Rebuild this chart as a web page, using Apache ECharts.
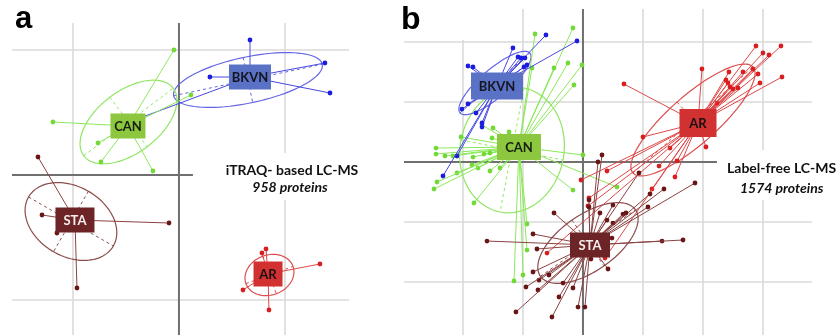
<!DOCTYPE html>
<html>
<head>
<meta charset="utf-8">
<script src="https://cdn.jsdelivr.net/npm/echarts@6/dist/echarts.min.js"></script>
<style>
  html, body { margin: 0; padding: 0; background: #fff; }
  #chart { width: 836px; height: 335px; }
</style>
</head>
<body>
<div id="chart"></div>
<script>
// panel a: iTRAQ scores (grid step = 1 unit)
const aBkvnCentre = [0.670, 0.784];
const aBkvnPoints = [[0.670, 1.080], [1.377, 0.896], [1.425, 0.656], [0.292, 0.784], [-0.368, 0.456]];
const aBkvnEllipse = [0.651, 0.760, 0.701, 0.126, 0.045, -0.180];

const aCanCentre = [-0.481, 0.392];
const aCanPoints = [[-0.047, 1.0], [-1.189, 0.424], [0.113, 0.640], [-0.764, 0.256], [-0.736, 0.104], [-0.245, 0.032]];
const aCanEllipse = [-0.476, 0.424, 0.422, 0.270, 0.176, -0.198];

const aStaCentre = [-0.981, -0.360];
const aStaPoints = [[-1.330, 0.144], [-0.094, -0.384], [-0.962, -0.904], [-1.292, -0.320], [-1.151, -0.464]];
const aStaEllipse = [-1.019, -0.372, 0.400, -0.196, -0.165, -0.242];

const aArCentre = [0.840, -0.792];
const aArPoints = [[0.821, -0.592], [0.783, -0.624], [1.330, -0.712], [0.604, -0.920], [0.849, -1.080]];
const aArEllipse = [0.854, -0.800, 0.222, 0.069, 0.064, -0.150];

// panel b: label-free scores
const bBkvnCentre = [-1.433, 1.267];
const bBkvnPoints = [
  [-0.617, 2.117], [-0.100, 2.017], [-1.167, 1.900], [-1.083, 1.750], [-1.033, 1.733], [-0.967, 1.733],
  [-0.933, 1.617], [-0.983, 1.583], [-1.917, 1.600], [-1.833, 1.583], [-2.017, 0.883], [-1.917, 0.967],
  [-1.783, 0.817], [-1.683, 0.583], [-1.683, 0.650], [-2.100, 0.100], [-2.333, -0.233]
];
const bBkvnEllipse = [-1.467, 1.317, 0.582, 0.498, 0.152, -0.177];

const bCanCentre = [-1.067, 0.250];
const bCanPoints = [
  [-0.800, 2.133], [-0.167, 2.233], [-0.017, 1.617], [-0.250, 1.650], [-0.483, 1.567], [-0.150, 1.283],
  [-0.850, 1.567], [-1.233, 0.500], [-1.517, 0.400], [-1.683, 0.617], [-1.500, 0.567], [-2.033, 0.417],
  [-2.450, 0.233], [-2.450, 0.133], [-2.300, 0.100], [-2.167, 0.100], [-1.833, 0.083], [-1.650, 0.133],
  [-1.550, 0.150], [-1.850, -0.050], [-1.750, -0.100], [-2.100, -0.183], [-1.550, -0.150], [-1.383, -0.100],
  [-2.433, -0.333], [-2.483, -0.450], [0.000, 0.117], [-0.167, -0.467], [-1.817, -0.683], [-0.933, -1.033],
  [-0.933, -1.467], [-1.150, -1.983], [-1.000, -1.883], [0.567, -0.417]
];
const bCanEllipse = [-1.183, 0.200, -0.200, -1.033, 0.850, -0.167];

const bArCentre = [1.917, 0.650];
const bArPoints = [
  [2.883, 1.933], [3.300, 1.933], [3.000, 1.817], [3.100, 1.783], [1.983, 1.550], [0.683, 1.300],
  [2.433, 1.500], [2.667, 1.500], [2.833, 1.550], [2.917, 1.467], [3.317, 1.417], [2.950, 1.317],
  [2.383, 1.367], [2.417, 1.317], [2.500, 1.217], [2.583, 1.233], [2.233, 0.983], [2.450, 1.250],
  [1.000, 0.417], [1.450, 0.233], [2.050, 0.250], [1.567, 0.017], [1.267, -0.067], [1.533, -0.250],
  [0.400, -0.150], [-0.033, -0.300], [1.150, -0.450], [-0.600, -1.517], [0.367, -1.600], [0.083, -0.733],
  [0.100, -0.600]
];
const bArEllipse = [1.833, 0.700, 1.000, 0.883, 0.265, -0.300];

const bStaCentre = [0.117, -1.383];
const bStaPoints = [
  [-1.600, -1.317], [1.317, -1.317], [1.667, -1.300], [0.317, 0.117], [0.250, 0.000], [0.100, -0.633],
  [0.100, -0.750], [-0.483, -0.850], [-0.833, -1.200], [-0.767, -1.450], [-0.833, -1.833], [-0.733, -1.967],
  [-0.950, -2.083], [-0.750, -2.133], [-1.117, -2.500], [-0.517, -2.583], [-0.083, -2.417], [0.033, -2.417],
  [-0.400, -2.250], [-0.167, -2.100], [-0.333, -2.017], [-0.567, -1.883], [0.417, -1.783], [0.133, -1.617],
  [1.867, -0.350], [1.350, -0.450], [1.117, -0.533], [0.933, -0.183], [0.667, -0.867], [0.500, -1.017],
  [0.400, -0.967], [0.283, -0.850], [0.500, -0.717], [1.083, -0.750], [0.717, -0.850], [0.483, -1.267]
];
const bStaEllipse = [0.083, -1.350, 0.792, 0.555, 0.268, -0.382];

// axes extents and grid lines
const aXRange = [-1.575, 1.604];
const aYRange = [-1.28, 1.216];
const bXRange = [-2.983, 3.817];
const bYRange = [-2.883, 2.55];
const aGridX = [-1, 1];
const aGridY = [1, -1];
const bGridX = [-2, -1, 1, 2, 3];
const bGridY = [2, 1, -1, -2];
const aAxisXEnd = 0.132;
const bAxisXEnd = 2.233;

const styles = {
  BKVN: { point: '#1c1ce0', line: '#4848e0', ring: '#6464e6', box: '#5a72c6', text: '#15151f' },
  CAN: { point: '#72da36', line: '#8ce85a', ring: '#90e664', box: '#8dc63f', text: '#17200f' },
  STA: { point: '#6a1515', line: '#8a4242', ring: '#8c4c4c', box: '#6c2426', text: '#f6eeee' },
  AR: { point: '#d81e1e', line: '#de4848', ring: '#de4e4e', box: '#d23131', text: '#1a1010' },
};

function segments(idx, lines, color, width) {
  return {
    type: 'custom', xAxisIndex: idx, yAxisIndex: idx, z: 1, silent: true,
    data: lines,
    renderItem: (params, api) => {
      const p1 = api.coord([api.value(0), api.value(1)]);
      const p2 = api.coord([api.value(2), api.value(3)]);
      return { type: 'line', shape: { x1: p1[0], y1: p1[1], x2: p2[0], y2: p2[1] }, style: { stroke: color, lineWidth: width } };
    },
  };
}

function gridLines(xs, ys, xr, yr) {
  return [...xs.map(x => [x, yr[0], x, yr[1]]), ...ys.map(y => [xr[0], y, xr[1], y])];
}

function star(idx, group, centre, points) {
  const s = styles[group];
  return {
    type: 'custom', name: group, xAxisIndex: idx, yAxisIndex: idx, z: 3, silent: true,
    data: points,
    encode: { x: 0, y: 1 },
    renderItem: (params, api) => {
      const p = api.coord([api.value(0), api.value(1)]);
      const c = api.coord(centre);
      return {
        type: 'group',
        children: [
          { type: 'line', shape: { x1: c[0], y1: c[1], x2: p[0], y2: p[1] }, style: { stroke: s.line, lineWidth: 1 } },
          { type: 'circle', shape: { cx: p[0], cy: p[1], r: 2.4 }, style: { fill: s.point } },
        ],
      };
    },
  };
}

function ellipse(idx, group, e) {
  const s = styles[group];
  return {
    type: 'custom', xAxisIndex: idx, yAxisIndex: idx, z: 2, silent: true,
    data: [e],
    encode: { x: 0, y: 1 },
    renderItem: (params, api) => {
      const [cx, cy, ux, uy, vx, vy] = [0, 1, 2, 3, 4, 5].map(i => api.value(i));
      const pts = [];
      for (let k = 0; k <= 90; k++) {
        const t = (k / 90) * Math.PI * 2;
        pts.push(api.coord([cx + ux * Math.cos(t) + vx * Math.sin(t), cy + uy * Math.cos(t) + vy * Math.sin(t)]));
      }
      const u1 = api.coord([cx - ux, cy - uy]);
      const u2 = api.coord([cx + ux, cy + uy]);
      const v1 = api.coord([cx - vx, cy - vy]);
      const v2 = api.coord([cx + vx, cy + vy]);
      const dash = { stroke: s.ring, lineWidth: 1, lineDash: [3, 3] };
      return {
        type: 'group',
        children: [
          { type: 'polyline', shape: { points: pts }, style: { stroke: s.ring, lineWidth: 1.2, fill: null } },
          { type: 'line', shape: { x1: u1[0], y1: u1[1], x2: u2[0], y2: u2[1] }, style: dash },
          { type: 'line', shape: { x1: v1[0], y1: v1[1], x2: v2[0], y2: v2[1] }, style: dash },
        ],
      };
    },
  };
}

function labelBox(idx, group, centre, w, h) {
  const s = styles[group];
  return {
    type: 'custom', xAxisIndex: idx, yAxisIndex: idx, z: 6, silent: true,
    data: [centre],
    encode: { x: 0, y: 1 },
    renderItem: (params, api) => {
      const c = api.coord([api.value(0), api.value(1)]);
      return {
        type: 'group',
        children: [
          { type: 'rect', shape: { x: c[0] - w / 2, y: c[1] - h / 2, width: w, height: h }, style: { fill: s.box } },
          {
            type: 'text', x: c[0], y: c[1] + 1,
            style: { text: group, fill: s.text, font: 'bold 13px Lato, "Open Sans", sans-serif', align: 'center', verticalAlign: 'middle' },
          },
        ],
      };
    },
  };
}

const chart = echarts.init(document.getElementById('chart'), null, { renderer: 'canvas' });

const hidden = { show: false };
chart.setOption({
  animation: false,
  grid: [
    { left: 12, top: 23, width: 337, height: 312 },
    { left: 404, top: 9, width: 408, height: 326 },
  ],
  xAxis: [
    { type: 'value', gridIndex: 0, min: aXRange[0], max: aXRange[1], show: false, splitLine: hidden },
    { type: 'value', gridIndex: 1, min: bXRange[0], max: bXRange[1], show: false, splitLine: hidden },
  ],
  yAxis: [
    { type: 'value', gridIndex: 0, min: aYRange[0], max: aYRange[1], show: false, splitLine: hidden },
    { type: 'value', gridIndex: 1, min: bYRange[0], max: bYRange[1], show: false, splitLine: hidden },
  ],
  series: [
    segments(0, gridLines(aGridX, aGridY, aXRange, aYRange), '#dadada', 1.6),
    segments(1, gridLines(bGridX, bGridY, bXRange, bYRange), '#dadada', 1.6),
    segments(0, [[0, aYRange[0], 0, aYRange[1]], [aXRange[0], 0, aAxisXEnd, 0]], '#707070', 2),
    segments(1, [[0, bYRange[0], 0, bYRange[1]], [bXRange[0], 0, bAxisXEnd, 0]], '#707070', 2),

    ellipse(0, 'BKVN', aBkvnEllipse),
    ellipse(0, 'CAN', aCanEllipse),
    ellipse(0, 'STA', aStaEllipse),
    ellipse(0, 'AR', aArEllipse),
    star(0, 'BKVN', aBkvnCentre, aBkvnPoints),
    star(0, 'CAN', aCanCentre, aCanPoints),
    star(0, 'STA', aStaCentre, aStaPoints),
    star(0, 'AR', aArCentre, aArPoints),
    labelBox(0, 'BKVN', aBkvnCentre, 42, 25),
    labelBox(0, 'CAN', aCanCentre, 35, 25),
    labelBox(0, 'STA', aStaCentre, 39, 25),
    labelBox(0, 'AR', aArCentre, 29, 25),

    ellipse(1, 'CAN', bCanEllipse),
    ellipse(1, 'BKVN', bBkvnEllipse),
    ellipse(1, 'AR', bArEllipse),
    ellipse(1, 'STA', bStaEllipse),
    star(1, 'CAN', bCanCentre, bCanPoints),
    star(1, 'BKVN', bBkvnCentre, bBkvnPoints),
    star(1, 'AR', bArCentre, bArPoints),
    star(1, 'STA', bStaCentre, bStaPoints),
    labelBox(1, 'BKVN', bBkvnCentre, 52, 27),
    labelBox(1, 'CAN', bCanCentre, 44, 26),
    labelBox(1, 'STA', bStaCentre, 40, 25),
    labelBox(1, 'AR', bArCentre, 37, 28),
  ],
  graphic: [
    { type: 'rect', z: 10, shape: { x: 193, y: 153, width: 167, height: 47 }, style: { fill: '#fff' } },
    { type: 'rect', z: 10, shape: { x: 719, y: 150, width: 117, height: 50 }, style: { fill: '#fff' } },
    { type: 'rect', z: 10, shape: { x: 398, y: 0, width: 72, height: 40 }, style: { fill: '#fff' } },
    { type: 'text', z: 11, x: 15, y: 19, style: { text: 'a', font: 'bold 31px "Liberation Sans", Arial, sans-serif', fill: '#000', verticalAlign: 'middle' } },
    { type: 'text', z: 11, x: 401, y: 20, style: { text: 'b', font: 'bold 32px "Liberation Sans", Arial, sans-serif', fill: '#000', verticalAlign: 'middle' } },
    { type: 'text', z: 11, x: 292, y: 170, style: { text: 'iTRAQ- based LC-MS', font: 'bold 14px Lato, sans-serif', fill: '#111', align: 'center', verticalAlign: 'middle' } },
    { type: 'text', z: 11, x: 290, y: 187, style: { text: '958 proteins', font: 'italic bold 14px Lato, sans-serif', fill: '#111', align: 'center', verticalAlign: 'middle' } },
    { type: 'text', z: 11, x: 727, y: 168, style: { text: 'Label-free LC-MS', font: 'bold 14px Lato, sans-serif', fill: '#111', verticalAlign: 'middle' } },
    { type: 'text', z: 11, x: 740, y: 188, style: { text: '1574 proteins', font: 'italic bold 14px Lato, sans-serif', fill: '#111', verticalAlign: 'middle' } },
  ],
});
</script>
</body>
</html>
